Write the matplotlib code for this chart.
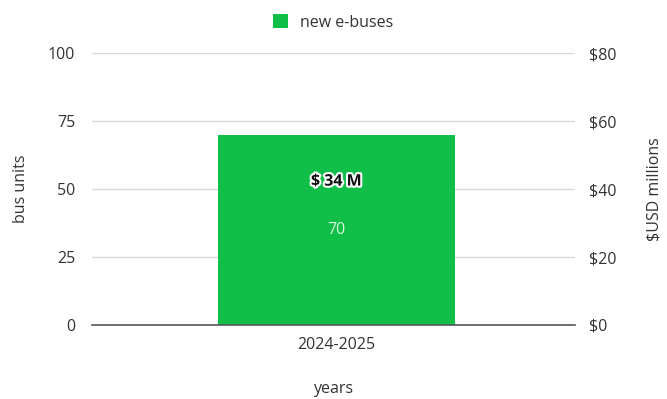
import matplotlib.pyplot as plt
import matplotlib.patheffects as pe

plt.rcParams['font.family'] = ['Open Sans', 'DejaVu Sans']

categories = ['2024-2025']
bus_units = [70]
cost_musd = [34]
left_ticks = [0, 25, 50, 75, 100]
right_ticks = [0, 20, 40, 60, 80]

green = '#0fbf48'
txt = '#333333'
fs = 11.5

fig = plt.figure(figsize=(6.67, 3.99), dpi=100)
ax = fig.add_axes([0.138, 0.1855, 0.724, 0.6815])
ax2 = ax.twinx()

x = range(len(categories))
ax.bar(x, bus_units, width=0.49, color=green, label='new e-buses', zorder=3)
ax.set_xlim(-0.506, 0.494)
ax.set_ylim(0, 100)
ax2.set_ylim(0, 80)
ax.set_yticks(left_ticks)
ax2.set_yticks(right_ticks)
ax2.set_yticklabels([f'${v}' for v in right_ticks])
ax.set_xticks(list(x))
ax.set_xticklabels(categories)

ax.grid(axis='y', color='#d9d9d9', linewidth=1, zorder=0)
ax.axhline(0, color='#555555', linewidth=1.2, zorder=4, clip_on=False)
for a in (ax, ax2):
    for s in a.spines.values():
        s.set_visible(False)
    a.tick_params(length=0, labelsize=fs, colors=txt)
ax.tick_params(axis='y', pad=12)
ax2.tick_params(axis='y', pad=10)
ax.tick_params(axis='x', pad=9)

ax.set_ylabel('bus units', fontsize=fs, color=txt, labelpad=14)
ax2.set_ylabel('$USD millions', fontsize=fs, color=txt, labelpad=22)
ax.set_xlabel('years', fontsize=fs, color=txt, labelpad=20)

for xi, v in zip(x, bus_units):
    ax.text(xi, v / 2, str(v), ha='center', va='center', color='#d8f5dc',
            fontsize=fs, zorder=5)

for xi, c in zip(x, cost_musd):
    t = ax2.annotate(f'$ {c} M', (xi, c), xytext=(0, 20), textcoords='offset points',
                     ha='center', va='center', fontsize=fs, fontweight='bold',
                     color='#111111', zorder=6)
    t.set_path_effects([pe.withStroke(linewidth=3, foreground='white')])

ax.legend(loc='lower center', bbox_to_anchor=(0.5, 1.03), frameon=False,
          fontsize=fs, handlelength=0.9, handleheight=0.9, labelcolor=txt)

fig.savefig('out.png', dpi=100)
